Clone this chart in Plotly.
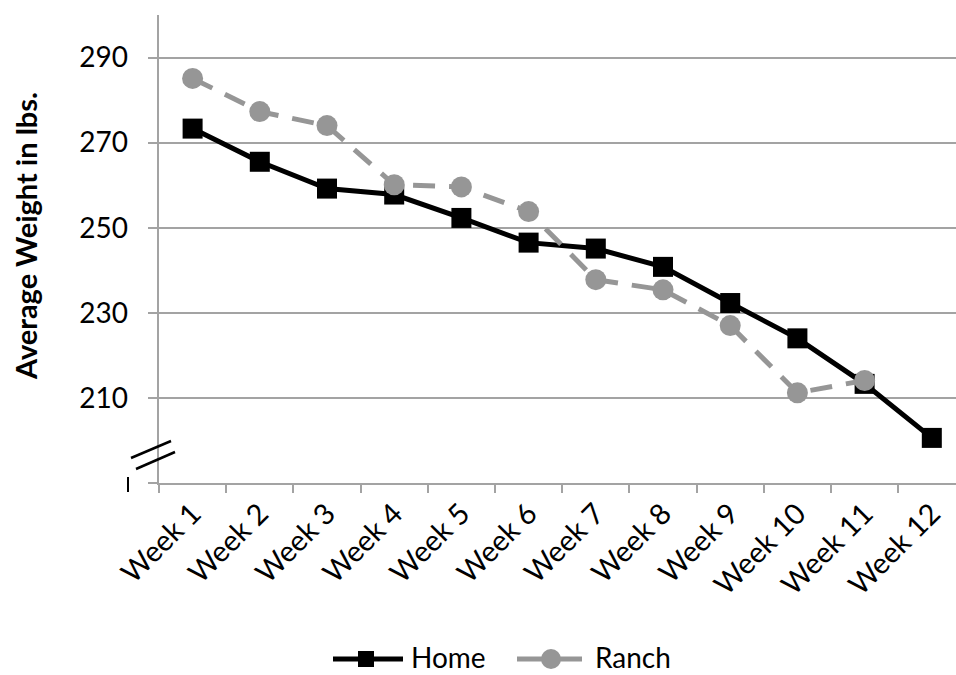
import plotly.graph_objects as go

weeks = ["Week 1", "Week 2", "Week 3", "Week 4", "Week 5", "Week 6",
         "Week 7", "Week 8", "Week 9", "Week 10", "Week 11", "Week 12"]
home = [273.3, 265.5, 259.2, 257.8, 252.3, 246.5, 245.1, 240.8, 232.3, 224.0, 213.3, 200.6]
ranch = [285.1, 277.3, 274.0, 260.1, 259.6, 253.8, 237.8, 235.4, 227.0, 211.2, 214.1, None]

y_ticks = [190, 210, 230, 250, 270, 290]
y_tick_text = ["", "210", "230", "250", "270", "290"]

AXIS_GRAY = "#a3a3a3"
RANCH_GRAY = "#969696"
FONT = "Lato, 'Open Sans', sans-serif"

fig = go.Figure()
fig.add_trace(go.Scatter(
    x=weeks, y=home, name="Home", mode="lines+markers",
    line=dict(color="black", width=5),
    marker=dict(symbol="square", size=20, color="black"),
))
fig.add_trace(go.Scatter(
    x=weeks, y=ranch, name="Ranch", mode="lines+markers",
    line=dict(color=RANCH_GRAY, width=5, dash="22px,14px"),
    marker=dict(symbol="circle", size=21, color=RANCH_GRAY),
))

# plot area in pixels: x 159..956, y 15..483
L, R, T, B = 159, 0, 15, 192
W, H = 956, 675
pw, ph = W - L - R, H - T - B


def px_x(p):
    return (p - L) / pw


def px_y(p):
    return (H - B - p) / ph


def seg(x0, y0, x1, y1, color, width):
    return dict(type="line", xref="paper", yref="paper",
                x0=px_x(x0), y0=px_y(y0), x1=px_x(x1), y1=px_y(y1),
                line=dict(color=color, width=width))


shapes = [
    # axis break marks on the value axis
    seg(131, 458, 171, 441, "black", 2.5),
    seg(136, 469, 175, 452, "black", 2.5),
    seg(128, 477, 128, 492, "black", 2),
]

# legend drawn below the plot: long line keys with their marker in the middle
LEG_Y = 659
shapes += [
    seg(333, LEG_Y, 403, LEG_Y, "black", 5),
    dict(type="rect", xref="paper", yref="paper",
         x0=px_x(358), x1=px_x(374), y0=px_y(LEG_Y + 8), y1=px_y(LEG_Y - 8),
         fillcolor="black", line=dict(width=0)),
    seg(517, LEG_Y, 582, LEG_Y, RANCH_GRAY, 5),
    dict(type="circle", xref="paper", yref="paper",
         x0=px_x(541), x1=px_x(561), y0=px_y(LEG_Y + 10), y1=px_y(LEG_Y - 10),
         fillcolor=RANCH_GRAY, line=dict(width=0)),
]

legend_labels = [("Home", 409), ("Ranch", 593)]
annotations = [dict(
    text=name, xref="paper", yref="paper", x=px_x(xpos), y=px_y(656.5),
    xanchor="left", yanchor="middle", showarrow=False,
    font=dict(size=28, family=FONT, color="black"),
) for name, xpos in legend_labels]

annotations.append(dict(
    text="<b>Average Weight in lbs.</b>", textangle=-90,
    xref="paper", yref="paper", x=px_x(25), y=px_y(236),
    xanchor="center", yanchor="middle", showarrow=False,
    font=dict(size=29, family=FONT, color="black"),
))

fig.update_layout(
    width=W, height=H,
    margin=dict(l=L, r=R, t=T, b=B, pad=0),
    paper_bgcolor="white", plot_bgcolor="white",
    font=dict(family=FONT, size=28, color="black"),
    showlegend=False,
    xaxis=dict(
        type="category", range=[-0.5, 11.36],
        showgrid=False, showline=True, linecolor=AXIS_GRAY, linewidth=2,
        ticks="outside", tickson="boundaries", ticklen=8, tickwidth=2,
        tickcolor=AXIS_GRAY, tickangle=-45, tickfont=dict(size=29),
        automargin=False,
    ),
    yaxis=dict(
        range=[190, 300], tickvals=y_ticks,
        ticktext=[t + "\u00a0\u00a0" if t else t for t in y_tick_text],
        showgrid=True, gridcolor=AXIS_GRAY, gridwidth=2,
        showline=True, linecolor=AXIS_GRAY, linewidth=2,
        ticks="outside", ticklen=9, tickwidth=2, tickcolor=AXIS_GRAY,
        tickfont=dict(size=28), zeroline=False, automargin=False,
    ),
    shapes=shapes,
    annotations=annotations,
)

fig.write_html("out.html")
